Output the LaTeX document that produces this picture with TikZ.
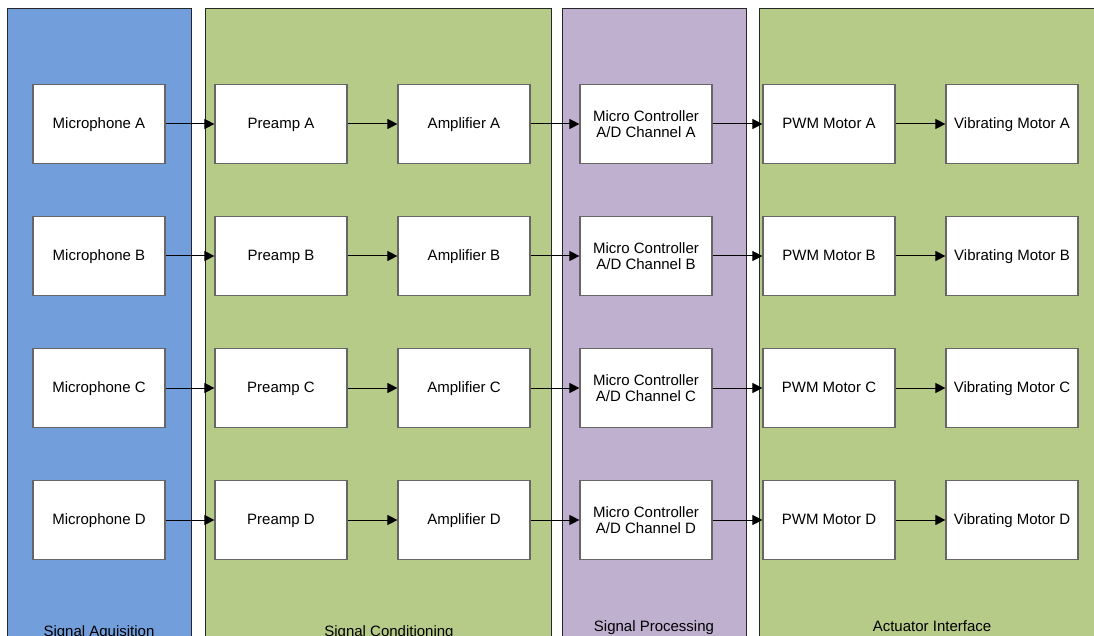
\documentclass[tikz,border=0pt]{standalone}
\usepackage{fontspec}
\setmainfont{Liberation Sans}
\usetikzlibrary{arrows.meta}
\definecolor{acqblue}{RGB}{114,159,219}
\definecolor{condgreen}{RGB}{183,203,136}
\definecolor{procpurple}{RGB}{191,176,208}
\tikzset{
  stage/.style={draw=black!85, line width=0.9pt},
  block/.style={draw=black!60, fill=white, line width=1.2pt, minimum width=132pt, minimum height=79pt,
    align=center, font=\fontsize{15pt}{16.5pt}\selectfont},
  oneline/.style={block, text height=11pt, text depth=2pt},
  flow/.style={-{Triangle[length=10pt,width=10pt]}, line width=1pt},
  stagename/.style={anchor=base, font=\fontsize{15pt}{16.5pt}\selectfont}
}
\begin{document}
\begin{tikzpicture}[x=1pt,y=-1pt]
  \useasboundingbox (0,0) rectangle (1094,636);
  \clip (0,0) rectangle (1094,636);
  \fill[white] (0,0) rectangle (1094,636);
  % stages
  \draw [stage, fill=acqblue] (7,8) rectangle (191,660);
  \draw [stage, fill=condgreen] (205,8) rectangle (551,660);
  \draw [stage, fill=procpurple] (562,8) rectangle (746,660);
  \draw [stage, fill=condgreen] (759,8) rectangle (1110,660);
  \node [stagename] (acqlabel) at (99,636) {Signal Aquisition};
  \node [stagename] (condlabel) at (389,636) {Signal Conditioning};
  \node [stagename] (proclabel) at (654,631) {Signal Processing};
  \node [stagename] (actlabel) at (932,631) {Actuator Interface};
  % row A
  \node [oneline] (micA) at (99,124) {Microphone A};  \node [oneline] (preA) at (281,124) {Preamp A};
  \node [oneline] (ampA) at (464,124) {Amplifier A};  \node [block] (mcuA) at (646,124) {Micro Controller\\A/D Channel A};
  \node [oneline] (pwmA) at (829,124) {PWM Motor A};  \node [oneline] (vibA) at (1012,124) {Vibrating Motor A};
  % row B
  \node [oneline] (micB) at (99,256) {Microphone B};  \node [oneline] (preB) at (281,256) {Preamp B};
  \node [oneline] (ampB) at (464,256) {Amplifier B};  \node [block] (mcuB) at (646,256) {Micro Controller\\A/D Channel B};
  \node [oneline] (pwmB) at (829,256) {PWM Motor B};  \node [oneline] (vibB) at (1012,256) {Vibrating Motor B};
  % row C
  \node [oneline] (micC) at (99,388) {Microphone C};  \node [oneline] (preC) at (281,388) {Preamp C};
  \node [oneline] (ampC) at (464,388) {Amplifier C};  \node [block] (mcuC) at (646,388) {Micro Controller\\A/D Channel C};
  \node [oneline] (pwmC) at (829,388) {PWM Motor C};  \node [oneline] (vibC) at (1012,388) {Vibrating Motor C};
  % row D
  \node [oneline] (micD) at (99,520) {Microphone D};  \node [oneline] (preD) at (281,520) {Preamp D};
  \node [oneline] (ampD) at (464,520) {Amplifier D};  \node [block] (mcuD) at (646,520) {Micro Controller\\A/D Channel D};
  \node [oneline] (pwmD) at (829,520) {PWM Motor D};  \node [oneline] (vibD) at (1012,520) {Vibrating Motor D};
  % signal paths
  \draw [flow] (micA) -- (preA); \draw [flow] (preA) -- (ampA); \draw [flow] (ampA) -- (mcuA); \draw [flow] (mcuA) -- (pwmA); \draw [flow] (pwmA) -- (vibA);
  \draw [flow] (micB) -- (preB); \draw [flow] (preB) -- (ampB); \draw [flow] (ampB) -- (mcuB); \draw [flow] (mcuB) -- (pwmB); \draw [flow] (pwmB) -- (vibB);
  \draw [flow] (micC) -- (preC); \draw [flow] (preC) -- (ampC); \draw [flow] (ampC) -- (mcuC); \draw [flow] (mcuC) -- (pwmC); \draw [flow] (pwmC) -- (vibC);
  \draw [flow] (micD) -- (preD); \draw [flow] (preD) -- (ampD); \draw [flow] (ampD) -- (mcuD); \draw [flow] (mcuD) -- (pwmD); \draw [flow] (pwmD) -- (vibD);
\end{tikzpicture}
\end{document}
